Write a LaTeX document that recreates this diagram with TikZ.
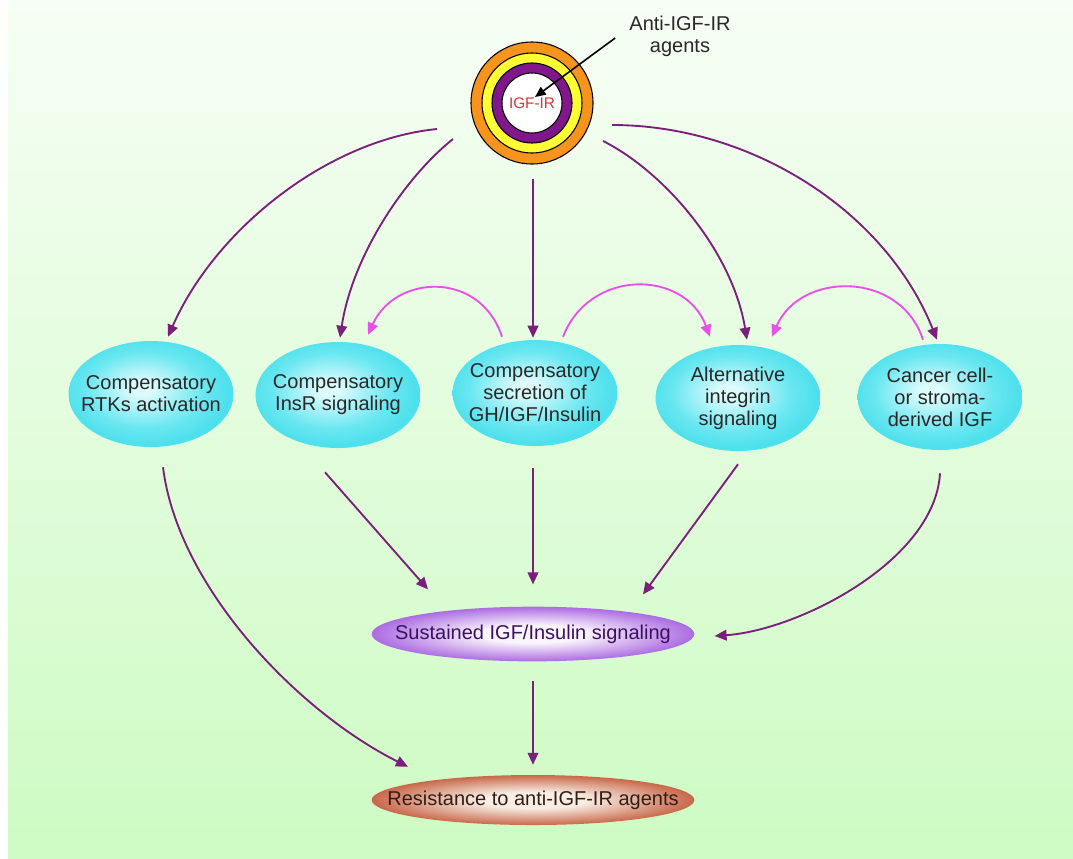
\documentclass[tikz,border=0pt]{standalone}
\usepackage{fontspec}
\setmainfont{Liberation Sans}
\usetikzlibrary{arrows.meta,calc,shapes.geometric}
\definecolor{bgTop}{RGB}{247,254,245}
\definecolor{bgBot}{RGB}{205,251,195}
\definecolor{arrowPurple}{RGB}{122,32,122}
\definecolor{arrowPink}{RGB}{232,80,232}
\definecolor{cyanC}{RGB}{222,251,252}
\definecolor{cyanM}{RGB}{105,231,241}
\definecolor{cyanE}{RGB}{78,224,236}
\definecolor{susE}{RGB}{172,108,226}
\definecolor{susC}{RGB}{250,245,252}
\definecolor{resE}{RGB}{200,104,74}
\definecolor{resC}{RGB}{248,238,228}
\definecolor{ringOrange}{RGB}{247,148,30}
\definecolor{ringYellow}{RGB}{255,255,51}
\definecolor{ringPurple}{RGB}{128,24,140}
\definecolor{igfRed}{RGB}{225,50,50}
\definecolor{txtDark}{RGB}{40,40,40}
\definecolor{txtPurple}{RGB}{60,16,96}
\definecolor{txtBrown}{RGB}{50,30,20}
\pgfdeclareradialshading{cyanshade}{\pgfpoint{-3bp}{3bp}}{color(0bp)=(cyanC); color(3bp)=(cyanC); color(18bp)=(cyanM); color(25bp)=(cyanE); color(50bp)=(cyanE)}
\pgfdeclareradialshading{susshade}{\pgfpoint{0bp}{0bp}}{color(0bp)=(susC); color(8bp)=(susC); color(25bp)=(susE); color(50bp)=(susE)}
\pgfdeclareradialshading{resshade}{\pgfpoint{0bp}{0bp}}{color(0bp)=(resC); color(8bp)=(resC); color(25bp)=(resE); color(50bp)=(resE)}
\tikzset{
  mainfont/.style={font=\fontsize{15}{16.5}\selectfont},
  cyanell/.style={ellipse, shade, shading=cyanshade, minimum width=123.75pt, minimum height=79.5pt, inner sep=0pt},
  cyantext/.style={align=center, text=txtDark, mainfont, inner sep=0pt},
  susell/.style={ellipse, shade, shading=susshade, minimum width=242pt, minimum height=41pt, inner sep=0pt},
  resell/.style={ellipse, shade, shading=resshade, minimum width=242pt, minimum height=37.5pt, inner sep=0pt},
  ring/.style={circle, draw=black, line width=0.8pt, inner sep=0pt},
  parrow/.style={draw=arrowPurple, line width=1.4pt, -{Triangle[length=9pt,width=8pt]}},
  pinkarrow/.style={draw=arrowPink, line width=1.4pt, -{Triangle[length=9pt,width=8pt]}},
  blackarrow/.style={draw=black, line width=1.2pt, -{Triangle[length=8pt,width=7pt]}}
}
\begin{document}
\begin{tikzpicture}[x=0.75pt, y=-0.75pt]
\useasboundingbox (0,0) rectangle (1073,858);
\fill[white] (0,0) rectangle (1073,858);
\shade[top color=bgTop, bottom color=bgBot] (8,0) rectangle (1073,858);

% receptor rings
\node[ring, fill=ringOrange, minimum size=91.5pt] (igf) at (532,103) {};
\node[ring, fill=ringYellow, minimum size=75pt] (ringy) at (igf.center) {};
\node[ring, fill=ringPurple, minimum size=60pt] (ringp) at (igf.center) {};
\node[ring, fill=white, minimum size=45pt, text=igfRed, font=\fontsize{11.5}{12}\selectfont] (ringw) at (igf.center) {IGF-IR};

\node[mainfont, align=center, text=txtDark, inner sep=0pt] (anti) at (680,36) {Anti-IGF-IR\\agents};
\coordinate (tipA) at ($(igf.center)+(3,-6)$);
\draw[blackarrow] ($(anti.west)+(-14,2)$) -- (tipA);

% cyan mechanisms
\node[cyanell, label={[cyantext]center:Compensatory\\RTKs activation}] (rtk) at (151,394) {};
\node[cyanell, label={[cyantext]center:Compensatory\\InsR signaling}] (insr) at (338,395) {};
\node[cyanell, label={[cyantext]center:Compensatory\\secretion of\\GH/IGF/Insulin}] (secr) at (535,393) {};
\node[cyanell, label={[cyantext]center:Alternative\\integrin\\signaling}] (integ) at (738,398) {};
\node[cyanell, label={[cyantext]center:Cancer cell-\\or stroma-\\derived IGF}] (canc) at (940,397) {};

\node[susell, label={[mainfont, text=txtPurple, inner sep=0pt]center:Sustained IGF/Insulin signaling}] (sus) at (533,634) {};
\node[resell, label={[mainfont, text=txtBrown, inner sep=0pt]center:Resistance to anti-IGF-IR agents}] (res) at (533,800) {};

% from receptor
\draw[parrow] ($(igf.center)+(-95,26)$) .. controls +(-110,11) and +(47,-107) .. ($(rtk.north)+(17,-4)$);
\draw[parrow] ($(igf.center)+(-79,36)$) .. controls +(-50,40) and +(12,-80) .. ($(insr.north)+(2,-4)$);
\draw[parrow] ($(igf.south)+(1,14)$) -- ($(secr.north)+(-2,-2)$);
\draw[parrow] ($(igf.center)+(71,38)$) .. controls +(60,30) and +(-15,-90) .. ($(integ.north)+(9,-5)$);
\draw[parrow] ($(igf.center)+(80,22)$) .. controls +(138,0) and +(-52,-130) .. ($(canc.north)+(-3,-4)$);

% pink cross arrows
\draw[pinkarrow] ($(secr.north)+(-33,-3)$) .. controls +(-22,-67) and +(27,-60) .. ($(insr.north)+(30,-7)$);
\draw[pinkarrow] ($(secr.north)+(28,-3)$) .. controls +(27,-69) and +(-25,-67) .. ($(integ.north)+(-28,-8)$);
\draw[pinkarrow] ($(canc.north)+(-17,-4)$) .. controls +(-23,-70) and +(28,-65) .. ($(integ.north)+(34,-8)$);

% to sustained / resistance
\draw[parrow] ($(rtk.south)+(12,20)$) .. controls +(15,120) and +(-110,-55) .. ($(res.north)+(-125,-8)$);
\draw[parrow] ($(insr.south)+(-13,24)$) -- ($(sus.north)+(-105,-17)$);
\draw[parrow] ($(secr.south)+(-2,22)$) -- ($(sus.north)+(0,-22)$);
\draw[parrow] ($(integ.south)+(0,13)$) -- ($(sus.north)+(110,-12)$);
\draw[parrow] ($(canc.south)+(0,23)$) .. controls +(-5,87) and +(85,-6) .. ($(sus.east)+(20,2)$);
\draw[parrow] ($(sus.south)+(0,19)$) -- ($(res.north)+(0,-10)$);
\end{tikzpicture}
\end{document}
